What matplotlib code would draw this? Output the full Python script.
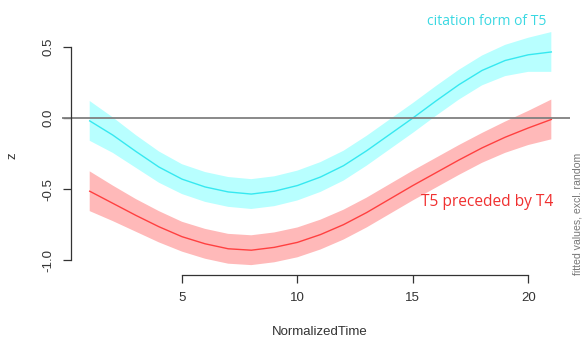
import matplotlib.pyplot as plt
import numpy as np

# smooth estimates (NormalizedTime 1..21)
time = list(range(1, 22))
citation = [-0.02, -0.12, -0.235, -0.345, -0.43, -0.485, -0.52, -0.535, -0.515, -0.475,
            -0.415, -0.335, -0.23, -0.115, 0.0, 0.12, 0.235, 0.335, 0.405, 0.445, 0.465]
after_t4 = [-0.515, -0.60, -0.685, -0.765, -0.835, -0.885, -0.92, -0.93, -0.91, -0.875,
            -0.82, -0.75, -0.665, -0.57, -0.475, -0.385, -0.295, -0.21, -0.135, -0.07, -0.01]
ci = [0.14, 0.125, 0.115, 0.11, 0.105, 0.105, 0.105, 0.105, 0.105, 0.105,
      0.105, 0.105, 0.105, 0.105, 0.105, 0.105, 0.105, 0.105, 0.11, 0.12, 0.14]
xticks = [5, 10, 15, 20]
yticks = [-1.0, -0.5, 0.0, 0.5]

plt.rcParams['font.family'] = ['Liberation Sans', 'DejaVu Sans']

t = np.array(time)
cit = np.array(citation)
t4 = np.array(after_t4)
se = np.array(ci)

fig = plt.figure(figsize=(5.85, 3.4), dpi=100)
ax = fig.add_axes([0.106, 0.191, 0.868, 0.7335])

ax.fill_between(t, cit - se, cit + se, facecolor='#b8ffff', linewidth=0)
ax.fill_between(t, t4 - se, t4 + se, facecolor='#ffb9b9', linewidth=0)
ax.plot(t, cit, c='#36e8f0', lw=1)
ax.plot(t, t4, c='#ff4040', lw=1)
ax.axhline(0, c='#808080', lw=1.3)

ax.set_xlim(-0.2, 21.8)
ax.set_ylim(-1.105, 0.65)
ax.set_xticks(xticks)
ax.set_yticks(yticks)
ax.set_yticklabels(['-1.0', '-0.5', '0.0', '0.5'])

for s in ['top', 'right']:
    ax.spines[s].set_visible(False)
ax.spines['left'].set_position(('data', 0.2))
ax.spines['left'].set_bounds(-1.0, 0.5)
ax.spines['bottom'].set_bounds(5, 20)
for s in ['left', 'bottom']:
    ax.spines[s].set_color('#333333')
    ax.spines[s].set_linewidth(0.9)
ax.tick_params(axis='both', length=6, width=0.9, color='#333333',
               labelsize=9.5, labelcolor='#333333')
ax.tick_params(axis='x', pad=6)
ax.tick_params(axis='y', labelrotation=90, pad=6)
for lab in ax.get_yticklabels():
    lab.set_va('center')

ax.set_xlabel('NormalizedTime', fontsize=9.5, color='#333333')
ax.xaxis.set_label_coords(0.508, -0.205)
ax.set_ylabel('z', fontsize=9.5, color='#333333')
ax.yaxis.set_label_coords(-0.085, 0.48)

ax.text(18.2, 0.676, 'citation form of T5', color='#3ad8e2', fontsize=10,
        family='Open Sans', ha='center', va='center')
ax.text(18.2, -0.59, 'T5 preceded by T4', color='#f03030', fontsize=11.2,
        family='Open Sans', ha='center', va='center')
fig.text(0.988, 0.37, 'fitted values, excl. random', color='#777777', fontsize=7.6,
         rotation=90, ha='center', va='center')

fig.savefig('out.png', dpi=100)
